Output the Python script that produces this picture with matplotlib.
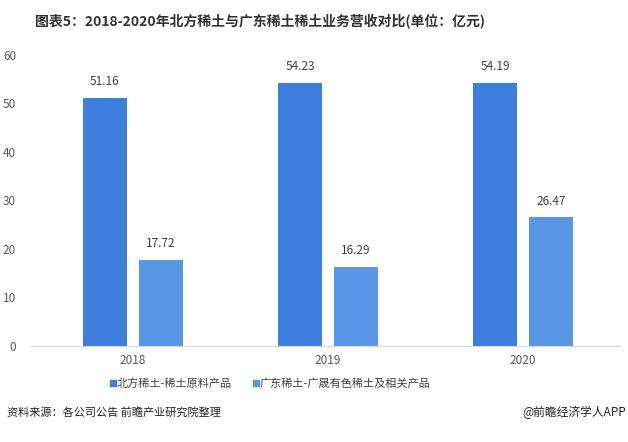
import matplotlib
matplotlib.use('Agg')
import matplotlib.pyplot as plt
from matplotlib.lines import Line2D
import numpy as np

plt.rcParams['font.family'] = ['Noto Sans CJK SC', 'DejaVu Sans']

years = ['2018', '2019', '2020']
north = [51.16, 54.23, 54.19]
guangdong = [17.72, 16.29, 26.47]
series_names = ['北方稀土-稀土原料产品', '广东稀土-广晟有色稀土及相关产品']
yticks = [0, 10, 20, 30, 40, 50, 60]

c_dark = '#3d7fde'
c_light = '#5a96e6'

fig = plt.figure(figsize=(6.28, 4.42), dpi=100)
ax = fig.add_axes([0.0478, 0.2172, 0.9395, 0.6593])

x = np.arange(len(years))
w = 0.2256
off = 0.144
ax.bar(x - off, north, w, color=c_dark)
ax.bar(x + off, guangdong, w, color=c_light)

# value labels above the bars
for xi, v in zip(x - off, north):
    ax.text(xi, v + 2.0, f'{v:.2f}', ha='center', va='bottom', fontsize=8.5, color='#404040')
for xi, v in zip(x + off, guangdong):
    ax.text(xi, v + 2.0, f'{v:.2f}', ha='center', va='bottom', fontsize=8.5, color='#404040')

ax.set_xlim(-0.528, 2.497)
ax.set_ylim(0, 60)
ax.set_yticks(yticks)
ax.set_xticks(x)
ax.set_xticklabels(years)
ax.tick_params(length=0, labelsize=8.5, colors='#595959')
ax.tick_params(axis='y', pad=10)
ax.tick_params(axis='x', pad=6)
for s in ['top', 'right', 'left']:
    ax.spines[s].set_visible(False)
ax.spines['bottom'].set_color('#d9d9d9')

handles = [Line2D([], [], marker='s', linestyle='', markersize=5, color=c_dark),
           Line2D([], [], marker='s', linestyle='', markersize=5, color=c_light)]
fig.legend(handles, series_names, loc='center', bbox_to_anchor=(270 / 628, 1 - 383 / 442),
           ncol=2, frameon=False, fontsize=8, handlelength=0.6, handletextpad=0.1,
           columnspacing=1.8, labelcolor='#404040')

fig.text(260 / 628, 1 - 22 / 442, '图表5：2018-2020年北方稀土与广东稀土稀土业务营收对比(单位：亿元)',
         ha='center', va='center', fontsize=10, fontweight='bold', color='#333333')
fig.text(7 / 628, 1 - 412 / 442, '资料来源：各公司公告 前瞻产业研究院整理', ha='left', va='center',
         fontsize=8, color='#222222')
fig.text(626 / 628, 1 - 412 / 442, '@前瞻经济学人APP', ha='right', va='center',
         fontsize=8.5, color='#222222')

fig.savefig('out.png', dpi=100)
